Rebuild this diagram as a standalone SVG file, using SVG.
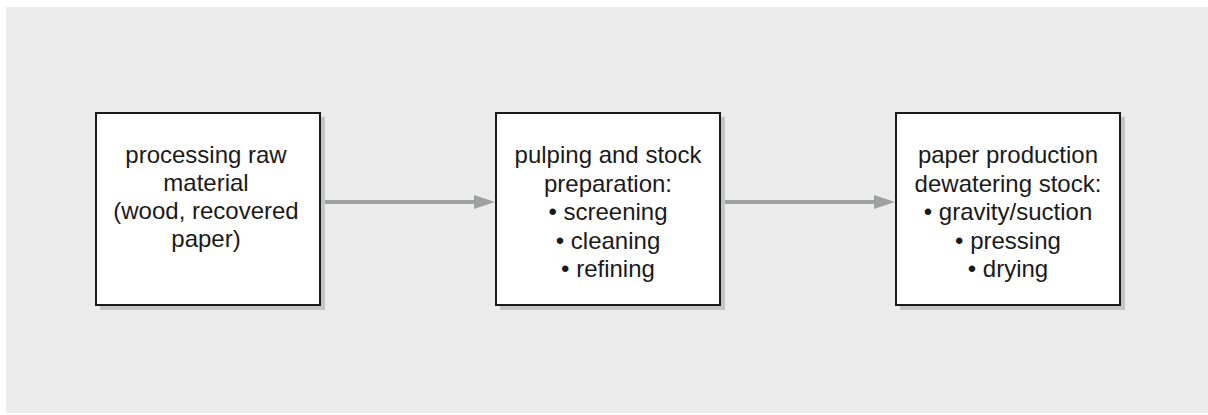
<svg xmlns="http://www.w3.org/2000/svg" width="1208" height="415" viewBox="0 0 1208 415">
<defs>
<style>
.bg{fill:#ebeceb}
.shadow{fill:#c4c5c5}
.box{fill:#ffffff;stroke:#1a1a1a;stroke-width:2}
.lbl{font-family:"Liberation Sans",Arial,sans-serif;font-size:24px;fill:#1a1a1a;text-anchor:middle}
.conn{stroke:#a0a2a2;stroke-width:4;fill:none}
.head{fill:#a0a2a2}
</style>
</defs>
<rect class="bg" x="6" y="7" width="1202" height="406"/>
<g id="connectors">
<line class="conn" x1="322" y1="202" x2="477" y2="202"/>
<polygon class="head" points="474,195 495,202 474,209"/>
<line class="conn" x1="722" y1="202" x2="877" y2="202"/>
<polygon class="head" points="874,195 895,202 874,209"/>
</g>
<g id="node1">
<rect class="shadow" x="100" y="117" width="225" height="193"/>
<rect class="box" x="96" y="113" width="224" height="192"/>
<text class="lbl"><tspan x="206" y="163">processing raw</tspan><tspan x="206" y="191">material</tspan><tspan x="206" y="219">(wood, recovered</tspan><tspan x="206" y="247">paper)</tspan></text>
</g>
<g id="node2">
<rect class="shadow" x="500" y="117" width="225" height="193"/>
<rect class="box" x="496" y="113" width="224" height="192"/>
<text class="lbl"><tspan x="608" y="163">pulping and stock</tspan><tspan x="608" y="191.5">preparation:</tspan><tspan x="608" y="220">• screening</tspan><tspan x="608" y="248.5">• cleaning</tspan><tspan x="608" y="277">• refining</tspan></text>
</g>
<g id="node3">
<rect class="shadow" x="900" y="117" width="225" height="193"/>
<rect class="box" x="896" y="113" width="224" height="192"/>
<text class="lbl"><tspan x="1008" y="163">paper production</tspan><tspan x="1008" y="191.5">dewatering stock:</tspan><tspan x="1008" y="220">• gravity/suction</tspan><tspan x="1008" y="248.5">• pressing</tspan><tspan x="1008" y="277">• drying</tspan></text>
</g>
</svg>
